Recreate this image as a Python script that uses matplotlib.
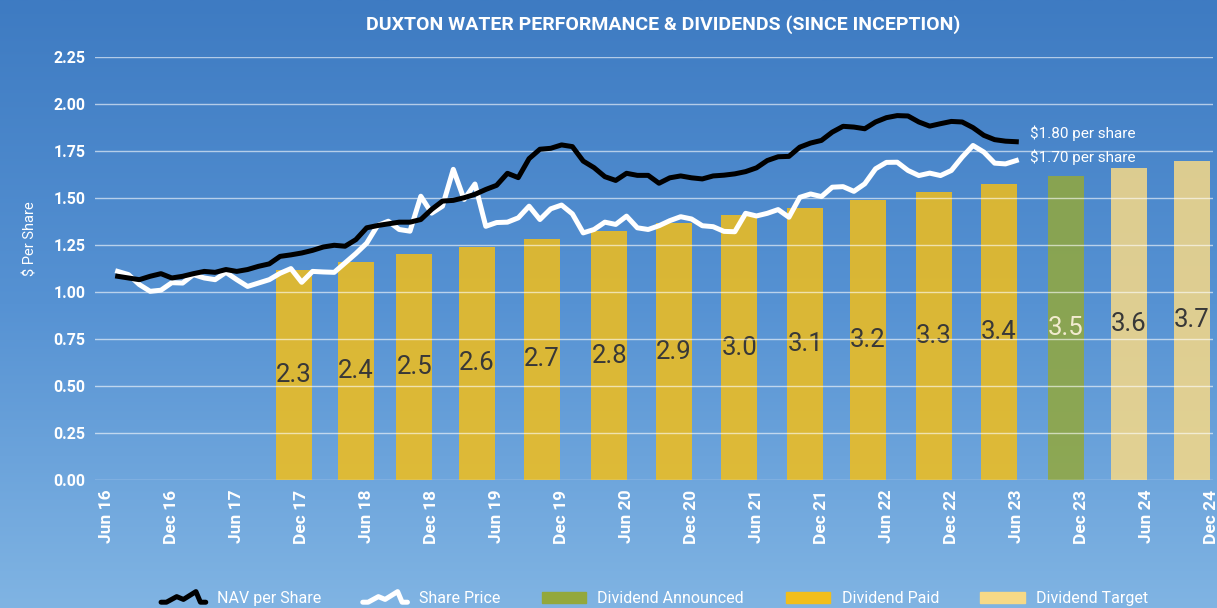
import matplotlib.pyplot as plt
import numpy as np
from matplotlib.lines import Line2D
from matplotlib.patches import Patch
from matplotlib.legend_handler import HandlerBase
from matplotlib.colors import LinearSegmentedColormap

plt.rcParams['font.family'] = ['Roboto', 'DejaVu Sans']

# monthly NAV and share price, Jul 16 .. Jun 23 (months counted from Jun 16)
nav = [1.084, 1.075, 1.066, 1.084, 1.098, 1.075, 1.084, 1.098, 1.110, 1.105,
       1.120, 1.110, 1.120, 1.137, 1.150, 1.190, 1.198, 1.208, 1.222, 1.240,
       1.249, 1.244, 1.279, 1.342, 1.354, 1.363, 1.372, 1.372, 1.386, 1.440,
       1.484, 1.488, 1.502, 1.520, 1.546, 1.568, 1.632, 1.609, 1.710, 1.760,
       1.765, 1.783, 1.774, 1.697, 1.662, 1.614, 1.594, 1.632, 1.621, 1.621,
       1.579, 1.608, 1.618, 1.608, 1.602, 1.618, 1.622, 1.629, 1.641, 1.661,
       1.700, 1.720, 1.722, 1.771, 1.793, 1.807, 1.851, 1.882, 1.878, 1.869,
       1.905, 1.928, 1.939, 1.937, 1.905, 1.883, 1.896, 1.908, 1.905, 1.875,
       1.834, 1.811, 1.803, 1.800]
price = [1.110, 1.093, 1.040, 1.004, 1.010, 1.050, 1.048, 1.093, 1.075, 1.066,
         1.105, 1.066, 1.030, 1.048, 1.066, 1.100, 1.125, 1.052, 1.110, 1.107,
         1.105, 1.155, 1.205, 1.260, 1.354, 1.377, 1.333, 1.324, 1.510, 1.420,
         1.457, 1.653, 1.493, 1.575, 1.350, 1.370, 1.372, 1.395, 1.457, 1.386,
         1.443, 1.463, 1.416, 1.315, 1.333, 1.372, 1.360, 1.404, 1.342, 1.333,
         1.353, 1.380, 1.401, 1.389, 1.353, 1.348, 1.323, 1.321, 1.419, 1.405,
         1.419, 1.439, 1.398, 1.504, 1.522, 1.508, 1.558, 1.561, 1.536, 1.576,
         1.656, 1.690, 1.691, 1.647, 1.620, 1.633, 1.620, 1.647, 1.718, 1.780,
         1.745, 1.686, 1.682, 1.700]
months = np.arange(1, len(nav) + 1)

# half-yearly dividends (cents per share) and payment month
div_cents = [2.3, 2.4, 2.5, 2.6, 2.7, 2.8, 2.9, 3.0, 3.1, 3.2, 3.3, 3.4, 3.5, 3.6, 3.7]
div_month = [17.3, 23.0, 28.4, 34.2, 40.2, 46.4, 52.4, 58.4, 64.5, 70.3, 76.4, 82.4,
             88.6, 94.4, 100.2]
div_status = ['paid'] * 12 + ['announced'] + ['target'] * 2

tick_labels = ['Jun 16', 'Dec 16', 'Jun 17', 'Dec 17', 'Jun 18', 'Dec 18', 'Jun 19',
               'Dec 19', 'Jun 20', 'Dec 20', 'Jun 21', 'Dec 21', 'Jun 22', 'Dec 22',
               'Jun 23', 'Dec 23', 'Jun 24', 'Dec 24']

colors = {'paid': '#F2BE1A', 'announced': '#93A83C', 'target': '#F7D986'}

fig = plt.figure(figsize=(12.17, 6.08), dpi=100)

# background gradient
bg = fig.add_axes([0, 0, 1, 1], zorder=-10)
grad = np.linspace(0, 1, 256)[:, None]
cmap = LinearSegmentedColormap.from_list('bg', ['#3E7BC2', '#5692D3', '#80B4E3'])
bg.imshow(grad, aspect='auto', cmap=cmap, extent=[0, 1, 0, 1])
bg.axis('off')

pos = [0.078, 0.2105, 0.919, 0.6955]
xlim = (-1.1, 102.2)

# bars on their own (hidden) dividend scale
axb = fig.add_axes(pos)
axb.patch.set_alpha(0)
b_lo, b_hi = -0.38, 5.02
bars = axb.bar(div_month, np.array(div_cents) - b_lo, bottom=b_lo, width=3.3,
               color=[colors[s] for s in div_status], alpha=0.85, zorder=2)
axb.set_ylim(b_lo, b_hi)
axb.set_xlim(*xlim)
axb.axis('off')
lab_cols = ['#383838'] * 12 + ['#F2EBCF'] + ['#383838'] * 2
for rect, d, c in zip(bars, div_cents, lab_cols):
    axb.text(rect.get_x() + rect.get_width() / 2, (d + b_lo) / 2, f'{d:.1f}',
             ha='center', va='center', fontsize=18.5, color=c)

# lines
ax = fig.add_axes(pos)
ax.patch.set_alpha(0)
ax.plot(months, nav, color='black', lw=3.6, solid_joinstyle='round', zorder=4)
ax.plot(months, price, color='white', lw=3.6, solid_joinstyle='round', zorder=3)
ax.set_xlim(*xlim)
ax.set_ylim(0, 2.25)
ax.set_yticks(np.arange(0, 2.26, 0.25))
ax.set_yticklabels([f'{v:.2f}' for v in np.arange(0, 2.26, 0.25)])
ax.set_xticks(np.arange(0, 103, 6))
ax.set_xticklabels(tick_labels, rotation=90, va='top', ha='center')
ax.tick_params(length=0, colors='white', labelsize=11.5, pad=7)
ax.tick_params(axis='x', labelsize=12.5)
for t in ax.get_xticklabels() + ax.get_yticklabels():
    t.set_fontweight('bold')
ax.grid(axis='y', color='white', alpha=0.6, lw=1)
for s in ax.spines.values():
    s.set_visible(False)

ax.annotate(f'${nav[-1]:.2f} per share', xy=(months[-1], nav[-1]), xytext=(10, 6),
            textcoords='offset points', va='center', color='white', fontsize=11)
ax.annotate(f'${price[-1]:.2f} per share', xy=(months[-1], price[-1]), xytext=(10, 2),
            textcoords='offset points', va='center', color='white', fontsize=11)

fig.text(30 / 1217, 1 - 239 / 608, '$ Per Share', rotation=90, ha='center', va='center',
         color='white', fontsize=10.5)
fig.text(0.545, 1 - 25 / 608, 'DUXTON WATER PERFORMANCE & DIVIDENDS (SINCE INCEPTION)',
         ha='center', va='center', color='white', fontsize=14, fontweight='bold')


class ZigZag(HandlerBase):
    def create_artists(self, legend, orig, xd, yd, w, h, fs, trans):
        xs = np.array([0.0, 0.12, 0.35, 0.5, 0.62, 0.78, 0.88, 1.0]) * w - xd
        ys = np.array([0.05, 0.05, 0.55, 0.3, 0.6, 1.0, 0.05, 0.05]) * h - yd
        ln = Line2D(xs, ys, color=orig.get_color(), lw=3.6, solid_joinstyle='round',
                    solid_capstyle='round')
        ln.set_transform(trans)
        return [ln]


h_nav = Line2D([], [], color='black')
h_px = Line2D([], [], color='white')
handles = [h_nav, h_px, Patch(color=colors['announced']), Patch(color=colors['paid']),
           Patch(color=colors['target'])]
labels = ['NAV per Share', 'Share Price', 'Dividend Announced', 'Dividend Paid',
          'Dividend Target']
leg = fig.legend(handles, labels, loc='center', bbox_to_anchor=(0.538, 0.016), ncol=5,
                 frameon=False, fontsize=11.5, labelcolor='white', handlelength=2.8,
                 handletextpad=0.7, columnspacing=2.6, borderpad=0,
                 handler_map={h_nav: ZigZag(), h_px: ZigZag()})

fig.savefig('out.png', dpi=100)
